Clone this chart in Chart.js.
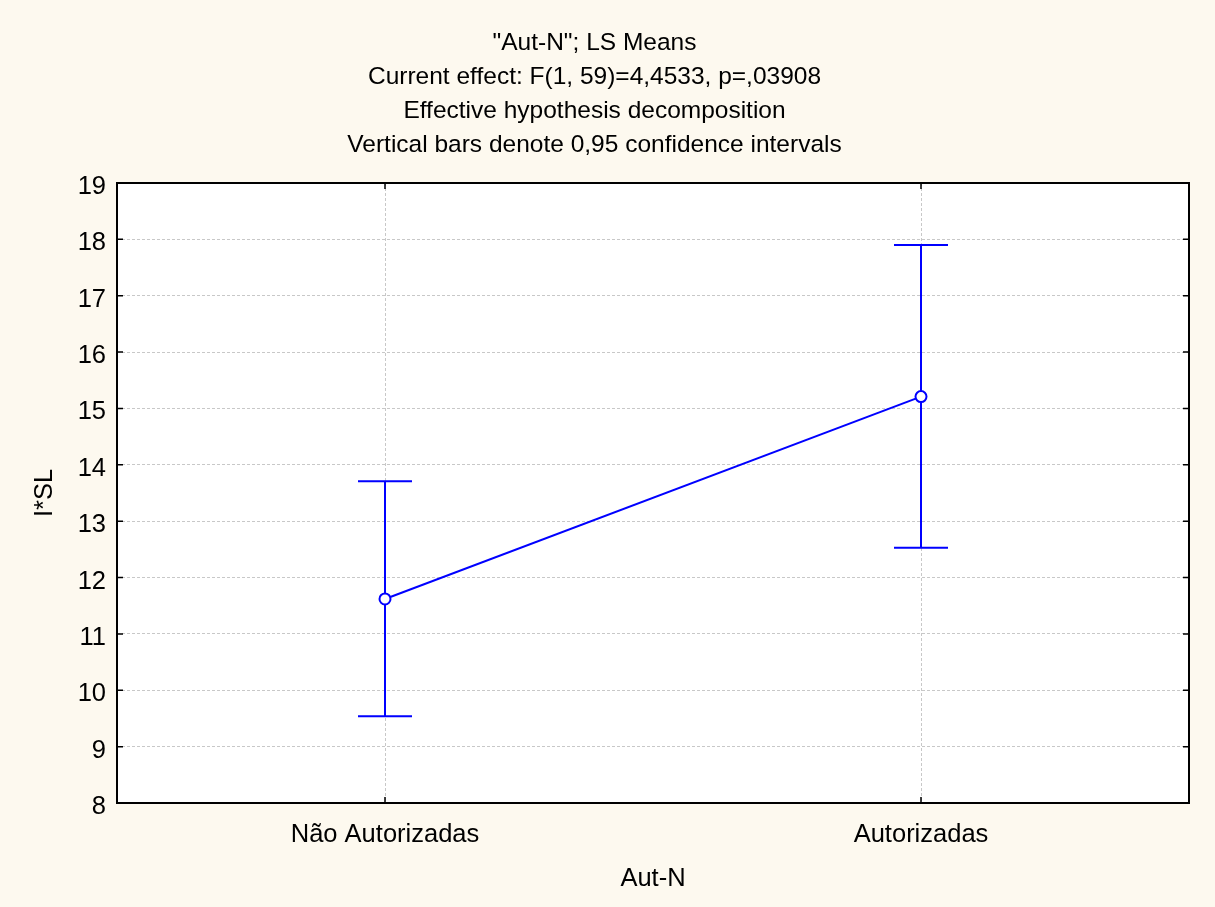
<!DOCTYPE html>
<html>
<head>
<meta charset="utf-8">
<script src="https://cdn.jsdelivr.net/npm/chart.js@4/dist/chart.umd.min.js"></script>
<style>
  html, body { margin: 0; padding: 0; background: #fdf9ef; }
  canvas { display: block; }
</style>
</head>
<body>
<canvas id="grafico" width="1215" height="907"></canvas>
<script>
// categorias y valores (LS means con intervalos de confianza 0,95)
const categorias = ['Não Autorizadas', 'Autorizadas'];
const medias = [11.62, 15.21];
const limInferior = [9.54, 12.53];
const limSuperior = [13.71, 17.90];
const lineasTitulo = [
  '"Aut-N"; LS Means',
  'Current effect: F(1, 59)=4,4533, p=,03908',
  'Effective hypothesis decomposition',
  'Vertical bars denote 0,95 confidence intervals'
];

const fuente = "'Liberation Sans', Arial, sans-serif";
const azul = '#0000ff';
const gris = '#c8c8c8';

// fondo crema y area blanca
const fondo = {
  id: 'fondo',
  beforeDraw(chart) {
    const { ctx, chartArea: a } = chart;
    ctx.save();
    ctx.fillStyle = '#fdf9ef';
    ctx.fillRect(0, 0, chart.width, chart.height);
    ctx.fillStyle = '#ffffff';
    ctx.fillRect(a.left, a.top, a.right - a.left, a.bottom - a.top);
    ctx.restore();
  }
};

// barras de error, debajo de los puntos
const barrasError = {
  id: 'barrasError',
  beforeDatasetsDraw(chart) {
    const { ctx, scales: { x, y } } = chart;
    ctx.save();
    ctx.strokeStyle = azul;
    ctx.lineWidth = 2;
    categorias.forEach((c, i) => {
      const px = x.getPixelForValue(i);
      const yTop = y.getPixelForValue(limSuperior[i]);
      const yBot = y.getPixelForValue(limInferior[i]);
      ctx.beginPath();
      ctx.moveTo(px, yTop); ctx.lineTo(px, yBot);
      ctx.moveTo(px - 27, yTop); ctx.lineTo(px + 27, yTop);
      ctx.moveTo(px - 27, yBot); ctx.lineTo(px + 27, yBot);
      ctx.stroke();
    });
    ctx.restore();
  }
};

// marco negro con marcas hacia dentro
const marco = {
  id: 'marco',
  afterDraw(chart) {
    const { ctx, chartArea: a, scales: { x, y } } = chart;
    ctx.save();
    ctx.strokeStyle = '#000';
    ctx.lineWidth = 1.5;
    ctx.beginPath();
    y.ticks.forEach(t => {
      const py = y.getPixelForValue(t.value);
      ctx.moveTo(a.left, py); ctx.lineTo(a.left + 6, py);
      ctx.moveTo(a.right, py); ctx.lineTo(a.right - 6, py);
    });
    categorias.forEach((c, i) => {
      const px = x.getPixelForValue(i);
      ctx.moveTo(px, a.bottom); ctx.lineTo(px, a.bottom - 6);
      ctx.moveTo(px, a.top); ctx.lineTo(px, a.top + 6);
    });
    ctx.stroke();
    ctx.lineWidth = 2;
    ctx.strokeRect(a.left, a.top, a.right - a.left, a.bottom - a.top);
    ctx.restore();
  }
};

new Chart(document.getElementById('grafico'), {
  type: 'line',
  data: {
    labels: categorias,
    datasets: [{
      data: medias,
      borderColor: azul,
      borderWidth: 2,
      tension: 0,
      pointRadius: 5.5,
      pointHoverRadius: 5.5,
      pointBorderWidth: 2,
      pointBackgroundColor: '#ffffff',
      pointBorderColor: azul
    }]
  },
  options: {
    responsive: false,
    animation: false,
    events: [],
    layout: { padding: { left: 0, right: 26, top: 0, bottom: 0 } },
    plugins: {
      legend: { display: false },
      tooltip: { enabled: false },
      title: {
        display: true,
        text: lineasTitulo,
        color: '#000',
        font: { family: fuente, size: 24.5, weight: 'normal', lineHeight: 34 / 24.5 },
        padding: { top: 26, bottom: 21 }
      }
    },
    scales: {
      x: {
        offset: true,
        afterFit(scale) { scale.height = 104; },
        border: { display: false, dash: [3, 2] },
        grid: { color: gris, lineWidth: 1, drawTicks: false },
        ticks: { color: '#000', padding: 17, font: { family: fuente, size: 25.5 } },
        title: {
          display: true, text: 'Aut-N', color: '#000',
          font: { family: fuente, size: 25.5 }, padding: { bottom: 13 }
        }
      },
      y: {
        min: 8, max: 19,
        afterFit(scale) { scale.width = 117; },
        border: { display: false, dash: [3, 2] },
        grid: { color: gris, lineWidth: 1, drawTicks: false },
        ticks: { stepSize: 1, color: '#000', padding: 11, labelOffset: 4, font: { family: fuente, size: 25.5 } },
        title: {
          display: true, text: 'I*SL', color: '#000',
          font: { family: fuente, size: 25.5 }, padding: { top: 30 }
        }
      }
    }
  },
  plugins: [fondo, barrasError, marco]
});
</script>
</body>
</html>
